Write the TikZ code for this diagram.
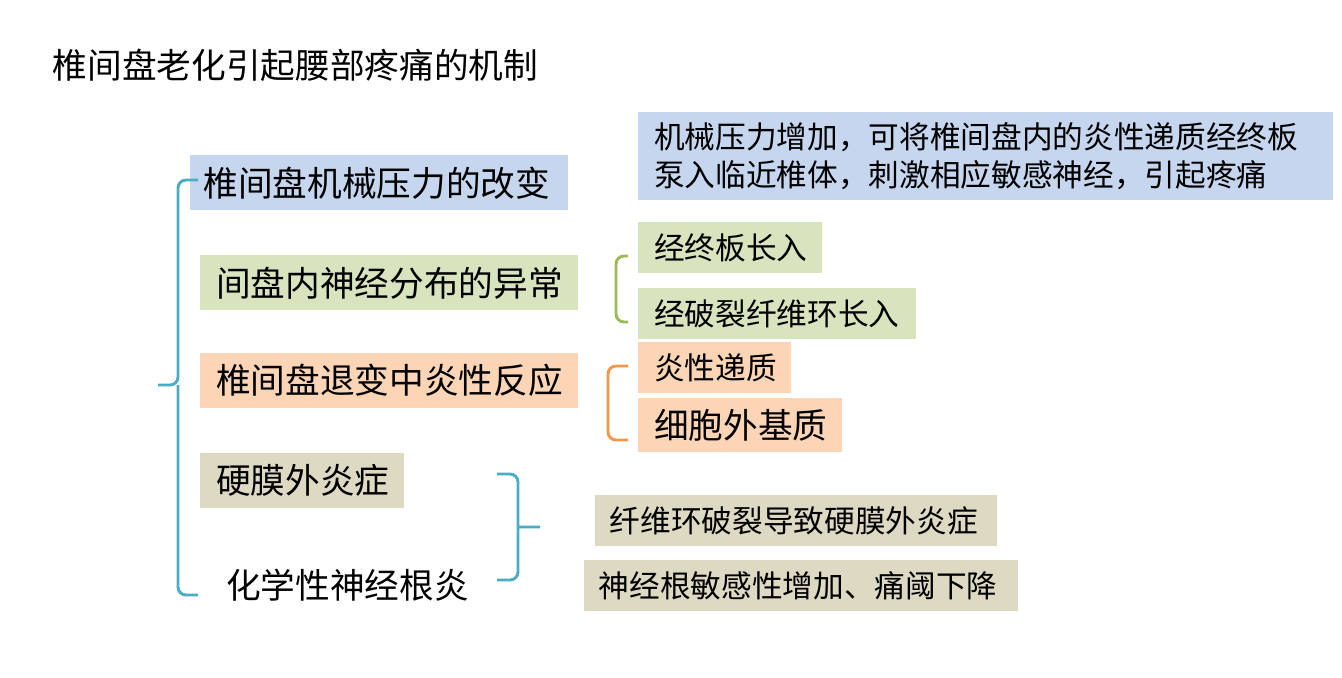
\documentclass[tikz,border=0pt]{standalone}
\usepackage{fontspec}
\setmainfont{Noto Sans CJK SC}
\usetikzlibrary{positioning}
\definecolor{bxblue}{HTML}{C6D6EE}
\definecolor{bxgreen}{HTML}{D7E4BD}
\definecolor{bxorange}{HTML}{FBD5B5}
\definecolor{bxtan}{HTML}{DDD9C3}
\definecolor{brcyan}{HTML}{4BACC6}
\definecolor{brgreen}{HTML}{9BBB59}
\definecolor{brorange}{HTML}{F79646}
\begin{document}
\begin{tikzpicture}[
x=0.75pt, y=-0.75pt,
box/.style={
  draw=none,
  anchor=north west,
  inner xsep=0pt,
  inner ysep=0pt,
  align=left
  },
big/.style={box, font=\fontsize{26}{30}\selectfont, minimum height=41.25pt},
small/.style={box, font=\fontsize{23}{27}\selectfont, minimum height=38pt},
brace/.style={line width=2.2pt, rounded corners=6pt}
]
\useasboundingbox (0,0) rectangle (1342,678);
\node[anchor=west, font=\fontsize{26}{30}\selectfont] (title) at (48,65) {椎间盘老化引起腰部疼痛的机制};

% left column
\node[big, fill=bxblue, minimum width=283.5pt, text width=283.5pt] (pres) at (190,155) {\hspace{10pt}椎间盘机械压力的改变};
\node[big, fill=bxgreen, minimum width=283.5pt, text width=283.5pt] (nerv) at (200,255) {\hspace{12pt}间盘内神经分布的异常};
\node[big, fill=bxorange, minimum width=283.5pt, text width=283.5pt] (infl) at (200,353) {\hspace{12pt}椎间盘退变中炎性反应};
\node[big, fill=bxtan, minimum width=153pt, text width=153pt] (epid) at (200,453) {\hspace{12pt}硬膜外炎症};
\node[big, text width=220pt] (chem) at (210,557) {\hspace{12pt}化学性神经根炎};

% right column
\node[box, fill=bxblue, font=\fontsize{23}{29}\selectfont, minimum width=521pt, minimum height=66pt, text width=521pt] (mech) at (638,112)
  {\hspace{12pt}机械压力增加，可将椎间盘内的炎性递质经终板\\\hspace{12pt}泵入临近椎体，刺激相应敏感神经，引起疼痛};
\node[small, fill=bxgreen, minimum width=138pt, text width=138pt] (endp) at (638,222) {\hspace{12pt}经终板长入};
\node[small, fill=bxgreen, minimum width=208.5pt, text width=208.5pt] (ring) at (638,288) {\hspace{12pt}经破裂纤维环长入};
\node[small, fill=bxorange, minimum width=114.75pt, text width=114.75pt] (medi) at (638,342) {\hspace{12pt}炎性递质};
\node[small, font=\fontsize{26}{30}\selectfont, fill=bxorange, minimum width=153pt, text width=153pt, minimum height=40.5pt] (matr) at (638,398) {\hspace{12pt}细胞外基质};
\node[small, fill=bxtan, minimum width=301.5pt, text width=301.5pt] (rupt) at (595,495) {\hspace{11pt}纤维环破裂导致硬膜外炎症};
\node[small, fill=bxtan, minimum width=325pt, text width=325pt] (sens) at (584,560) {\hspace{11pt}神经根敏感性增加、痛阈下降};

% braces
\draw[brace, brcyan] (198,180) -- (178,180) -- (178,385) -- (158,385) (178,385) -- (178,595) -- (198,595);
\draw[brace, brgreen] (628,256) -- (616,256) -- (616,322) -- (628,322);
\draw[brace, brorange] (628,366) -- (608,366) -- (608,440) -- (628,440);
\draw[brace, brcyan] (497,474) -- (518,474) -- (518,580) -- (497,580) (518,527) -- (540,527);
\end{tikzpicture}
\end{document}
